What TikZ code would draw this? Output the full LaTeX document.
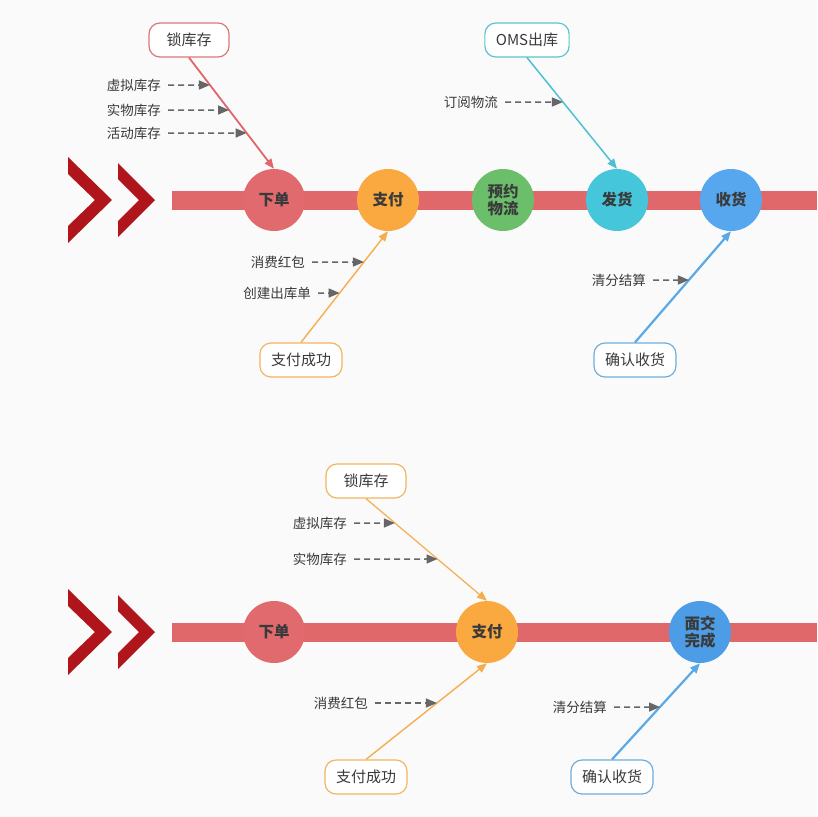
\documentclass[tikz,border=0pt]{standalone}
\usepackage{fontspec}
\setmainfont{Noto Sans CJK SC}
\usetikzlibrary{arrows.meta}
\definecolor{bg}{HTML}{FAFAFA}
\definecolor{spine}{HTML}{E0686B}
\definecolor{chev}{HTML}{B0151C}
\definecolor{cred}{HTML}{E06A6E}
\definecolor{cora}{HTML}{F9A93F}
\definecolor{cgreen}{HTML}{6BBF6B}
\definecolor{ccyan}{HTML}{45C6DB}
\definecolor{cblue}{HTML}{56A7EE}
\definecolor{cblue2}{HTML}{4C9DE6}
\definecolor{bred}{HTML}{D9787A}
\definecolor{bora}{HTML}{F2B661}
\definecolor{bcyan}{HTML}{5EC3CB}
\definecolor{bblue}{HTML}{6FAEDC}
\definecolor{ared}{HTML}{E0666C}
\definecolor{aora}{HTML}{F5AE4E}
\definecolor{acyan}{HTML}{4DC0D4}
\definecolor{ablue}{HTML}{5AA9E6}
\definecolor{txt}{HTML}{3A3A3A}
\definecolor{dgray}{HTML}{666666}
\tikzset{
  stage/.style={circle, minimum size=62pt, inner sep=0pt, fill=#1, text=txt,
    font=\fontsize{15.5}{17}\selectfont\bfseries, align=center},
  cause/.style={draw=#1, line width=1.2pt, fill=white, rounded corners=11pt,
    minimum height=34pt, minimum width=80pt, inner xsep=11pt, text=txt, font=\fontsize{15}{17}\selectfont},
  sublabel/.style={anchor=east, inner sep=0pt, text=txt, font=\fontsize{13.5}{15}\selectfont},
  subarrow/.style={dgray, line width=1.5pt, dash pattern=on 6pt off 4pt,
    shorten <=7pt, -{Triangle[length=11pt,width=9pt]}},
  mainarrow/.style={#1, -{Triangle[length=10pt,width=8pt]}},
}
\begin{document}
\begin{tikzpicture}[x=1pt,y=-1pt]
\fill[bg] (0,0) rectangle (817,817);
\useasboundingbox (0,0) rectangle (817,817);

% ---------- top fishbone ----------
\fill[chev] (68,157) -- (112,200) -- (68,243) -- (68,226) -- (95,200) -- (68,174) -- cycle;
\fill[chev] (118,163) -- (155,200) -- (118,237) -- (118,221) -- (139,200) -- (118,179) -- cycle;
\fill[spine] (172,191) rectangle (817,210);

\node[stage=cred]   (t1) at (274,200) {下单};
\node[stage=cora]   (t2) at (388,200) {支付};
\node[stage=cgreen] (t3) at (503,200) {\fontsize{15.5}{19}\selectfont 预约\\物流};
\node[stage=ccyan]  (t4) at (617,200) {发货};
\node[stage=cblue]  (t5) at (731,200) {收货};

\node[cause=bred]  (lk)  at (189,40)  {锁库存};
\node[cause=bcyan] (oms) at (527,40)  {OMS出库};
\node[cause=bora]  (pay) at (301,360) {支付成功};
\node[cause=bblue] (cfm) at (635,360) {确认收货};

\draw[mainarrow=ared, line width=1.8pt] (lk.south) -- (t1.north);
\draw[mainarrow=acyan, line width=1.5pt] (oms.south) -- (t4.north);
\draw[mainarrow=aora, line width=1.4pt] (pay.north) -- (t2.south);
\draw[mainarrow=ablue, line width=2.2pt] (cfm.north) -- (t5.south);

\coordinate (a1) at (intersection of lk.south--t1.north and 0,85--10,85);
\coordinate (a2) at (intersection of lk.south--t1.north and 0,110--10,110);
\coordinate (a3) at (intersection of lk.south--t1.north and 0,133--10,133);
\coordinate (a4) at (intersection of oms.south--t4.north and 0,102--10,102);
\coordinate (a5) at (intersection of pay.north--t2.south and 0,262--10,262);
\coordinate (a6) at (intersection of pay.north--t2.south and 0,293--10,293);
\coordinate (a7) at (intersection of cfm.north--t5.south and 0,280--10,280);

\node[sublabel] (l1) at (161,85)  {虚拟库存};
\node[sublabel] (l2) at (161,110) {实物库存};
\node[sublabel] (l3) at (161,133) {活动库存};
\node[sublabel] (l4) at (498,102) {订阅物流};
\node[sublabel] (l5) at (305,262) {消费红包};
\node[sublabel] (l6) at (311,293) {创建出库单};
\node[sublabel] (l7) at (646,280) {清分结算};

\draw[subarrow] (l1.east) -- (a1);
\draw[subarrow] (l2.east) -- (a2);
\draw[subarrow] (l3.east) -- (a3);
\draw[subarrow] (l4.east) -- (a4);
\draw[subarrow] (l5.east) -- (a5);
\draw[subarrow] (l6.east) -- (a6);
\draw[subarrow] (l7.east) -- (a7);

% ---------- bottom fishbone ----------
\fill[chev] (68,589) -- (112,632) -- (68,675) -- (68,658) -- (95,632) -- (68,606) -- cycle;
\fill[chev] (118,595) -- (155,632) -- (118,669) -- (118,653) -- (139,632) -- (118,611) -- cycle;
\fill[spine] (172,623) rectangle (817,642);

\node[stage=cred]   (b1) at (274,632) {下单};
\node[stage=cora]   (b2) at (487,632) {支付};
\node[stage=cblue2] (b3) at (700,632) {\fontsize{15.5}{19}\selectfont 面交\\完成};

\node[cause=bora]  (lk2)  at (366,481) {锁库存};
\node[cause=bora]  (pay2) at (366,777) {支付成功};
\node[cause=bblue] (cfm2) at (612,777) {确认收货};

\draw[mainarrow=aora, line width=1.2pt] (lk2.south) -- (b2.north);
\draw[mainarrow=aora, line width=1.4pt] (pay2.north) -- (b2.south);
\draw[mainarrow=ablue, line width=2.2pt] (cfm2.north) -- (b3.south);

\coordinate (c1) at (intersection of lk2.south--b2.north and 0,523--10,523);
\coordinate (c2) at (intersection of lk2.south--b2.north and 0,559--10,559);
\coordinate (c3) at (intersection of pay2.north--b2.south and 0,703--10,703);
\coordinate (c4) at (intersection of cfm2.north--b3.south and 0,707--10,707);

\node[sublabel] (m1) at (347,523) {虚拟库存};
\node[sublabel] (m2) at (347,559) {实物库存};
\node[sublabel] (m3) at (368,703) {消费红包};
\node[sublabel] (m4) at (607,707) {清分结算};

\draw[subarrow] (m1.east) -- (c1);
\draw[subarrow] (m2.east) -- (c2);
\draw[subarrow] (m3.east) -- (c3);
\draw[subarrow] (m4.east) -- (c4);
\end{tikzpicture}
\end{document}
